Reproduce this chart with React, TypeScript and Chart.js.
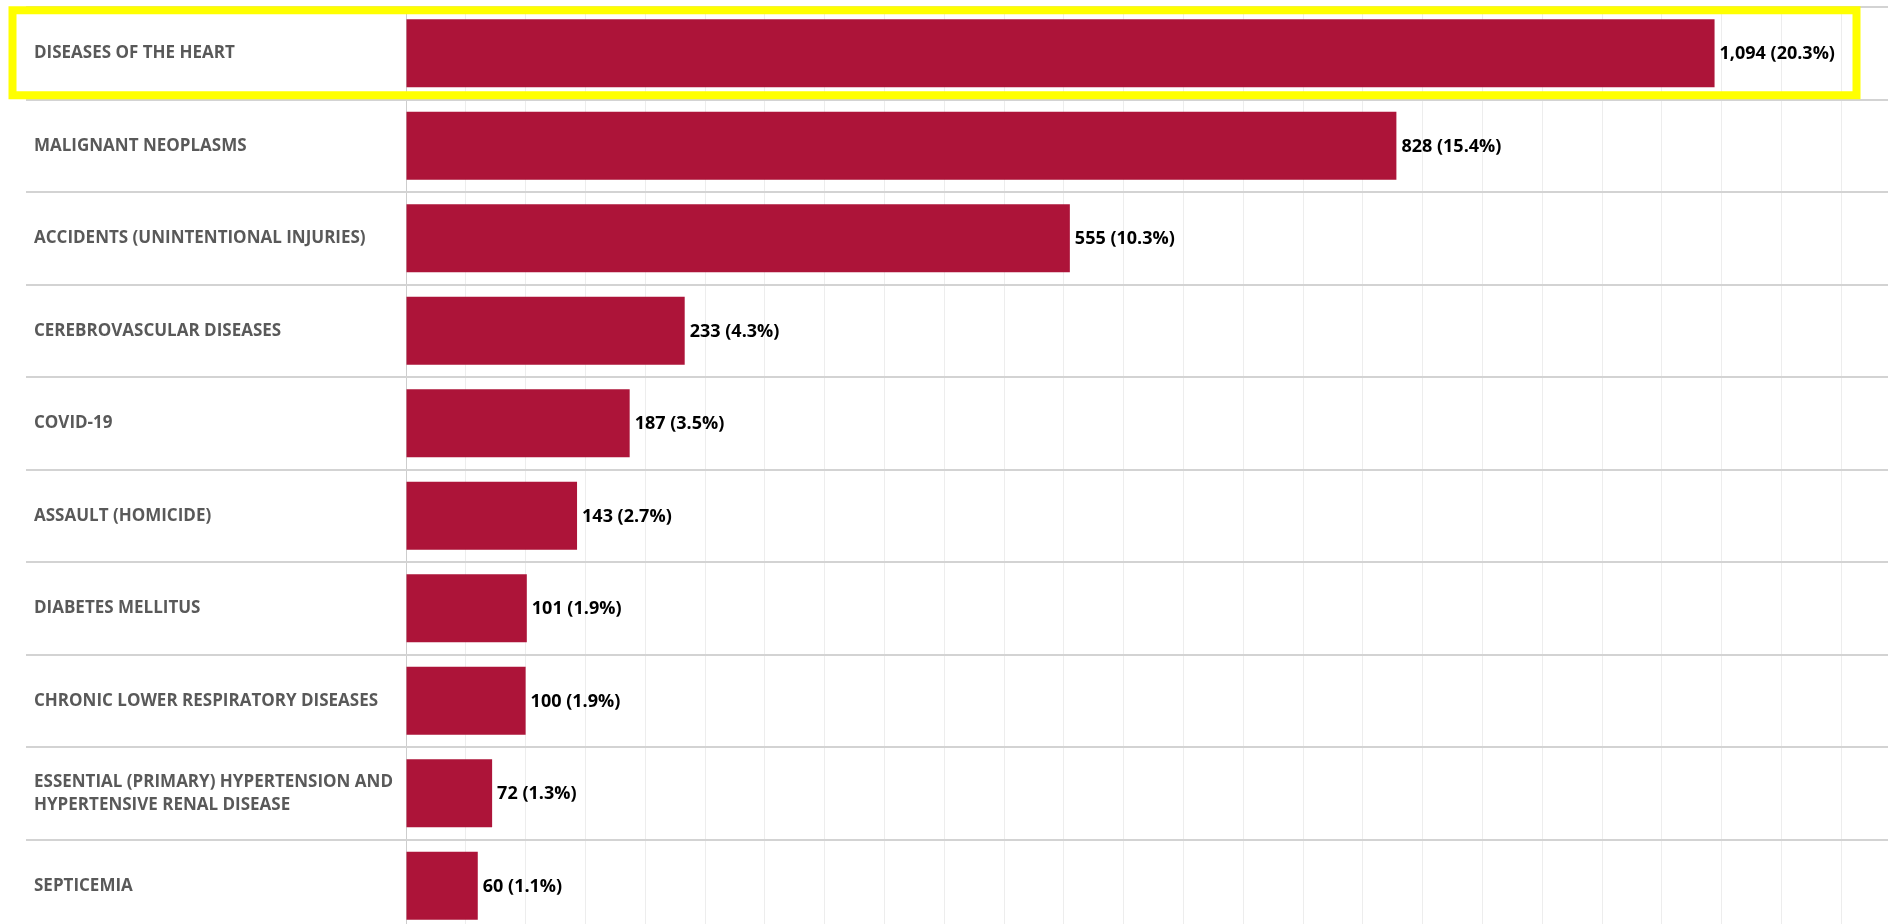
import React, { useEffect, useRef } from "react";
import { Chart, registerables } from "chart.js";

Chart.register(...registerables);

const categories: (string | string[])[] = [
  "DISEASES OF THE HEART",
  "MALIGNANT NEOPLASMS",
  "ACCIDENTS (UNINTENTIONAL INJURIES)",
  "CEREBROVASCULAR DISEASES",
  "COVID-19",
  "ASSAULT (HOMICIDE)",
  "DIABETES MELLITUS",
  "CHRONIC LOWER RESPIRATORY DISEASES",
  ["ESSENTIAL (PRIMARY) HYPERTENSION AND", "HYPERTENSIVE RENAL DISEASE"],
  "SEPTICEMIA",
];
const deaths = [1094, 828, 555, 233, 187, 143, 101, 100, 72, 60];
const percents = [20.3, 15.4, 10.3, 4.3, 3.5, 2.7, 1.9, 1.9, 1.3, 1.1];
const highlightedIndex = 0;

const FONT = "'Open Sans', sans-serif";
const BAR_COLOR = "#AD1439";

const separatorPlugin = {
  id: "rowSeparators",
  beforeDatasetsDraw(chart: any) {
    const y = chart.scales.y;
    const ctx = chart.ctx;
    ctx.save();
    ctx.strokeStyle = "#d3d3d3";
    ctx.lineWidth = 2;
    for (let i = 0; i <= categories.length; i++) {
      const py = Math.round(y.getPixelForValue(i - 0.5));
      ctx.beginPath();
      ctx.moveTo(26, py);
      ctx.lineTo(chart.width, py);
      ctx.stroke();
    }
    ctx.restore();
  },
};

const valueLabelPlugin = {
  id: "valueLabels",
  afterDatasetsDraw(chart: any) {
    const meta = chart.getDatasetMeta(0);
    const ctx = chart.ctx;
    ctx.save();
    ctx.font = `bold 18px ${FONT}`;
    ctx.fillStyle = "#000000";
    ctx.textAlign = "left";
    ctx.textBaseline = "middle";
    meta.data.forEach((el: any, i: number) => {
      const txt = `${deaths[i].toLocaleString("en-US")} (${percents[i].toFixed(1)}%)`;
      ctx.fillText(txt, el.x + 5, el.y + 1);
    });
    ctx.restore();
  },
};

const highlightPlugin = {
  id: "highlightBox",
  afterDraw(chart: any) {
    const y = chart.scales.y;
    const cy = y.getPixelForValue(highlightedIndex);
    const ctx = chart.ctx;
    ctx.save();
    ctx.strokeStyle = "#ffff00";
    ctx.lineWidth = 8;
    ctx.strokeRect(12.5, cy - 43, 1856.5 - 12.5, 85);
    ctx.restore();
  },
};

export default function App() {
  const ref = useRef<HTMLCanvasElement>(null);
  useEffect(() => {
    document.body.style.margin = "0";
    const chart = new Chart(ref.current as HTMLCanvasElement, {
      type: "bar",
      data: {
        labels: categories,
        datasets: [
          {
            data: deaths,
            backgroundColor: BAR_COLOR,
            borderWidth: 0,
            barPercentage: 0.735,
            categoryPercentage: 1,
          },
        ],
      },
      options: {
        indexAxis: "y",
        animation: false,
        responsive: false,
        layout: { padding: { left: 34, top: 7, right: 0, bottom: 0 } },
        plugins: {
          legend: { display: false },
          tooltip: { enabled: false },
        },
        scales: {
          x: {
            type: "linear",
            position: "bottom",
            min: 0,
            max: 1239,
            afterFit: (s: any) => {
              s.height = 0;
              s.paddingLeft = 0;
              s.paddingRight = 0;
            },
            ticks: { display: false, stepSize: 50, includeBounds: false },
            grid: { color: "#ededed", lineWidth: 1, drawTicks: false },
            border: { display: false },
          },
          y: {
            type: "category",
            afterFit: (s: any) => {
              s.width = 372;
              s.paddingTop = 0;
              s.paddingBottom = 0;
            },
            ticks: {
              crossAlign: "far",
              autoSkip: false,
              padding: 0,
              color: "#595959",
              font: { family: FONT, size: 17, weight: "bold", lineHeight: 1.35 },
            },
            grid: { display: false },
            border: { display: true, color: "#cdcdcd", width: 1 },
          },
        },
      } as any,
      plugins: [separatorPlugin, valueLabelPlugin, highlightPlugin],
    });
    return () => chart.destroy();
  }, []);
  return (
    <div
      style={{
        position: "absolute",
        left: 0,
        top: 0,
        width: 1888,
        height: 924,
        overflow: "hidden",
        background: "#ffffff",
      }}
    >
      <canvas ref={ref} width={1888} height={932} style={{ display: "block", width: 1888, height: 932 }} />
    </div>
  );
}
